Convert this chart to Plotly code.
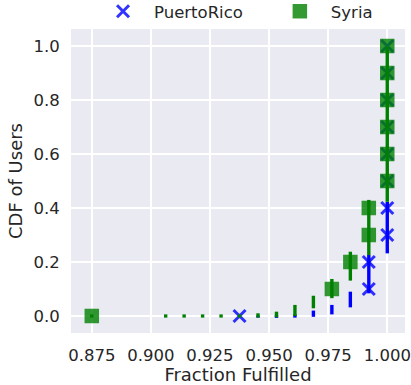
import plotly.graph_objects as go

# CDF points (fraction fulfilled, CDF of users)
pr_frac = [0.9375, 0.99219, 0.99219, 1.0, 1.0, 1.0, 1.0, 1.0, 1.0, 1.0, 1.0]
pr_cdf = [0.0, 0.1, 0.2, 0.3, 0.4, 0.5, 0.6, 0.7, 0.8, 0.9, 1.0]
sy_frac = [0.875, 0.97656, 0.98438, 0.99219, 0.99219, 1.0, 1.0, 1.0, 1.0, 1.0, 1.0]
sy_cdf = [0.0, 0.1, 0.2, 0.3, 0.4, 0.5, 0.6, 0.7, 0.8, 0.9, 1.0]

# vertical interval bars per fraction value
pr_bar_x = [1.0, 0.99219, 0.98438, 0.97656, 0.96875, 0.96094, 0.95313, 0.94531]
pr_bar_lo = [0.232, 0.084, 0.032, 0.006, -0.003, -0.006, -0.007, -0.006]
pr_bar_hi = [0.423, 0.226, 0.090, 0.041, 0.020, 0.006, 0.004, 0.002]
sy_bar_x = [1.0, 0.99219, 0.98438, 0.97656, 0.96875, 0.96094, 0.95313, 0.94531,
            0.9375, 0.92969, 0.92188, 0.91406, 0.90625, 0.875]
sy_bar_lo = [0.423, 0.226, 0.131, 0.066, 0.0285, 0.0, -0.005, -0.006,
             -0.006, -0.006, -0.006, -0.006, -0.006, -0.006]
sy_bar_hi = [0.997, 0.430, 0.238, 0.137, 0.075, 0.041, 0.016, 0.010,
             0.006, 0.006, 0.006, 0.006, 0.006, 0.006]

x_ticks = [0.875, 0.9, 0.925, 0.95, 0.975, 1.0]
x_tick_text = ["0.875", "0.900", "0.925", "0.950", "0.975", "1.000"]
y_ticks = [0.0, 0.2, 0.4, 0.6, 0.8, 1.0]
y_tick_text = ["0.0", "0.2", "0.4", "0.6", "0.8", "1.0"]

FONT = "DejaVu Sans"
TEXT = "#262626"
PAD = "\u00a0" * 4  # extra room after the first legend entry


def segments(xs, lo, hi):
    px, py = [], []
    for x, a, b in zip(xs, lo, hi):
        px += [x, x, None]
        py += [a, b, None]
    return px, py


fig = go.Figure()

bx, by = segments(pr_bar_x, pr_bar_lo, pr_bar_hi)
fig.add_trace(go.Scatter(x=bx, y=by, mode="lines", showlegend=False,
                         line=dict(color="#0000ff", width=3.4), hoverinfo="skip"))
fig.add_trace(go.Scatter(
    x=pr_frac, y=pr_cdf, mode="markers", name="PuertoRico" + PAD,
    marker=dict(symbol="x-thin", size=12,
                line=dict(color="rgba(0,0,255,0.8)", width=3)),
))

bx, by = segments(sy_bar_x, sy_bar_lo, sy_bar_hi)
fig.add_trace(go.Scatter(x=bx, y=by, mode="lines", showlegend=False,
                         line=dict(color="#008000", width=3.4), hoverinfo="skip"))
fig.add_trace(go.Scatter(
    x=sy_frac, y=sy_cdf, mode="markers", name="Syria",
    marker=dict(symbol="square", size=14.5, color="rgba(0,128,0,0.8)",
                line=dict(width=0)),
))

fig.update_layout(
    width=411, height=385,
    margin=dict(l=71, r=6, t=29, b=52, autoexpand=False),
    paper_bgcolor="white",
    plot_bgcolor="#eaeaf2",
    font=dict(family=FONT, color=TEXT, size=16.5),
    legend=dict(orientation="h", x=0.063, xanchor="left", y=1.0, yanchor="bottom",
                font=dict(family=FONT, size=16.5, color=TEXT), bgcolor="rgba(0,0,0,0)",
                itemwidth=52, tracegroupgap=0),
)
fig.update_xaxes(
    range=[0.8662, 1.0075], tickvals=x_ticks, ticktext=x_tick_text,
    showgrid=True, gridcolor="white", gridwidth=1.6, zeroline=False,
    showline=False, ticks="outside", ticklen=7, tickcolor="rgba(0,0,0,0)",
    tickfont=dict(size=16.5, color=TEXT),
    title=dict(text="Fraction Fulfilled", font=dict(size=18, color=TEXT), standoff=4),
)
fig.update_yaxes(
    range=[-0.063, 1.063], tickvals=y_ticks, ticktext=y_tick_text,
    showgrid=True, gridcolor="white", gridwidth=1.6, zeroline=False,
    showline=False, ticks="outside", ticklen=7, tickcolor="rgba(0,0,0,0)",
    tickfont=dict(size=16.5, color=TEXT),
    title=dict(text="CDF of Users", font=dict(size=18, color=TEXT), standoff=6),
)

fig.write_html("out.html")
